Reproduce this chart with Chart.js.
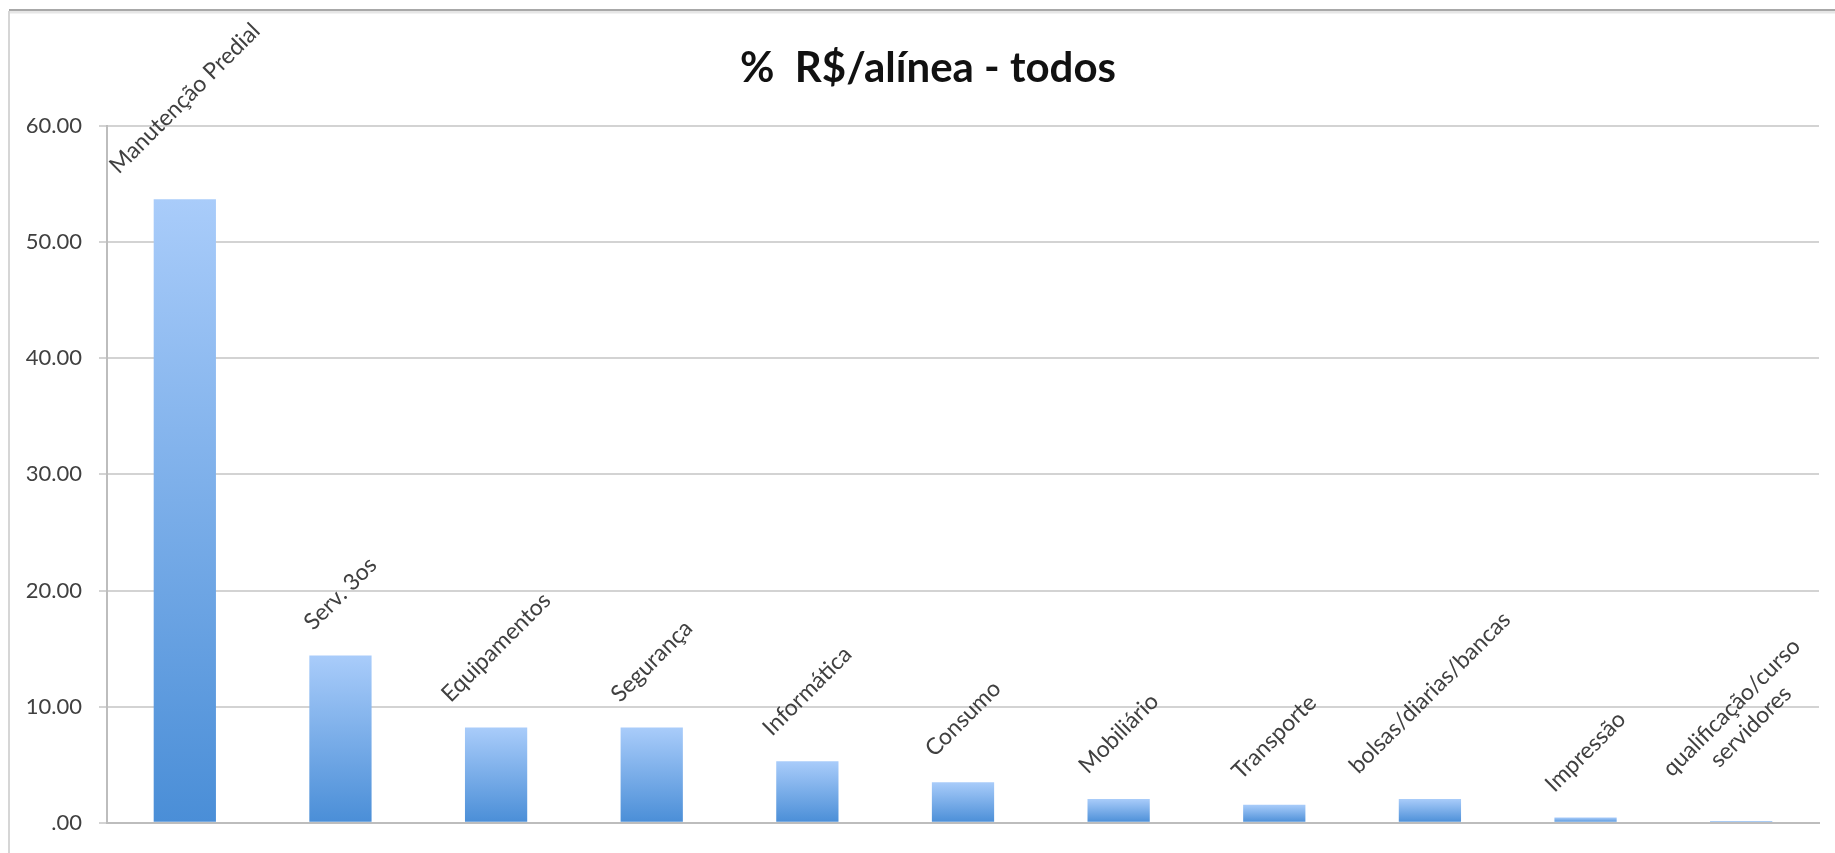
<!DOCTYPE html>
<html>
<head>
<meta charset="utf-8">
<title>% R$/alínea - todos</title>
<script src="https://cdn.jsdelivr.net/npm/chart.js@4.4.1/dist/chart.umd.min.js"></script>
<style>
  html, body { margin: 0; padding: 0; background: #fff; }
</style>
</head>
<body>
<canvas id="grafico" width="1835" height="853"></canvas>
<script>
const titulo = "%  R$/alínea - todos";

// categorias (alíneas) na ordem do gráfico
const categorias = [
  "Manutenção Predial",
  "Serv. 3os",
  "Equipamentos",
  "Segurança",
  "Informática",
  "Consumo",
  "Mobiliário",
  "Transporte",
  "bolsas/diarias/bancas",
  "Impressão",
  ["qualificação/curso", "servidores"]
];

// % do valor por alínea
const valores = [53.7, 14.4, 8.2, 8.2, 5.3, 3.5, 2.05, 1.55, 2.05, 0.45, 0.15];

// rótulos do eixo Y
const rotulosEixoY = [".00", "10.00", "20.00", "30.00", "40.00", "50.00", "60.00"];

const corTopo = "#a9ccfa";
const corBase = "#4a8ed7";

//gradiente de cada barra: claro em cima, escuro embaixo
function gradienteBarra(context) {
  const chart = context.chart;
  const escalaY = chart.scales.y;
  if (!chart.chartArea || !escalaY || context.raw === undefined) return corBase;
  const topo = escalaY.getPixelForValue(context.raw);
  const base = escalaY.getPixelForValue(0);
  if (base - topo < 2) return "#8dbaf0";
  const g = chart.ctx.createLinearGradient(0, topo, 0, base);
  g.addColorStop(0, corTopo);
  g.addColorStop(1, corBase);
  return g;
}

//moldura e título
const moldura = {
  id: "moldura",
  beforeDraw(chart) {
    const ctx = chart.ctx;
    ctx.save();
    ctx.fillStyle = "#fff";
    ctx.fillRect(0, 0, chart.width, chart.height);
    ctx.strokeStyle = "#e6e6e6";
    ctx.lineWidth = 3;
    ctx.beginPath();
    ctx.moveTo(9, 12);
    ctx.lineTo(chart.width, 12);
    ctx.stroke();
    ctx.strokeStyle = "#a8a8a8";
    ctx.lineWidth = 2;
    ctx.beginPath();
    ctx.moveTo(9, 10);
    ctx.lineTo(chart.width, 10);
    ctx.stroke();
    ctx.strokeStyle = "#d6d6d6";
    ctx.beginPath();
    ctx.moveTo(9, 11);
    ctx.lineTo(9, chart.height);
    ctx.stroke();
    ctx.fillStyle = "#111";
    ctx.font = "bold 42px Lato";
    ctx.textAlign = "center";
    ctx.textBaseline = "middle";
    ctx.fillText(titulo, 928, 68);
    ctx.restore();
  }
};

//nome da categoria girado em cima de cada barra
const rotulosBarras = {
  id: "rotulosBarras",
  afterDatasetsDraw(chart) {
    const ctx = chart.ctx;
    const meta = chart.getDatasetMeta(0);
    const alturaLinha = 27;
    ctx.save();
    ctx.font = "23px Lato";
    ctx.fillStyle = "#404040";
    ctx.textAlign = "center";
    ctx.textBaseline = "middle";
    meta.data.forEach((barra, i) => {
      const linhas = [].concat(categorias[i]);
      const largura = Math.max(...linhas.map((l) => ctx.measureText(l).width));
      const altura = linhas.length * alturaLinha;
      const caixa = (largura + altura) * Math.SQRT1_2;
      const cy = barra.y - 20 - caixa / 2;
      ctx.save();
      ctx.translate(barra.x, cy);
      ctx.rotate(-Math.PI / 4);
      linhas.forEach((l, k) => {
        ctx.fillText(l, 0, (k - (linhas.length - 1) / 2) * alturaLinha);
      });
      ctx.restore();
    });
    ctx.restore();
  }
};

const config = {
  type: "bar",
  data: {
    labels: categorias,
    datasets: [
      {
        data: valores,
        backgroundColor: gradienteBarra,
        borderWidth: 0,
        barPercentage: 0.4,
        categoryPercentage: 1
      }
    ]
  },
  options: {
    responsive: false,
    animation: false,
    devicePixelRatio: 1,
    layout: { padding: { top: 126, right: 16, bottom: 30, left: 0 } },
    plugins: {
      legend: { display: false },
      tooltip: { enabled: false },
      title: { display: false }
    },
    scales: {
      x: {
        ticks: { display: false },
        grid: { display: false },
        border: { color: "#bdbdbd", width: 2 },
        afterFit: (s) => { s.height = 0; }
      },
      y: {
        min: 0,
        max: 60,
        ticks: {
          stepSize: 10,
          color: "#404040",
          padding: 17,
          font: { family: "Lato", size: 22 },
          callback: (v, i) => rotulosEixoY[i]
        },
        grid: { color: "#d3d3d3", lineWidth: 2, tickLength: 8 },
        border: { color: "#bdbdbd", width: 2 },
        afterFit: (s) => { s.width = 107; }
      }
    }
  },
  plugins: [moldura, rotulosBarras]
};

const grafico = document.getElementById("grafico");
new Chart(grafico, config);
</script>
</body>
</html>
